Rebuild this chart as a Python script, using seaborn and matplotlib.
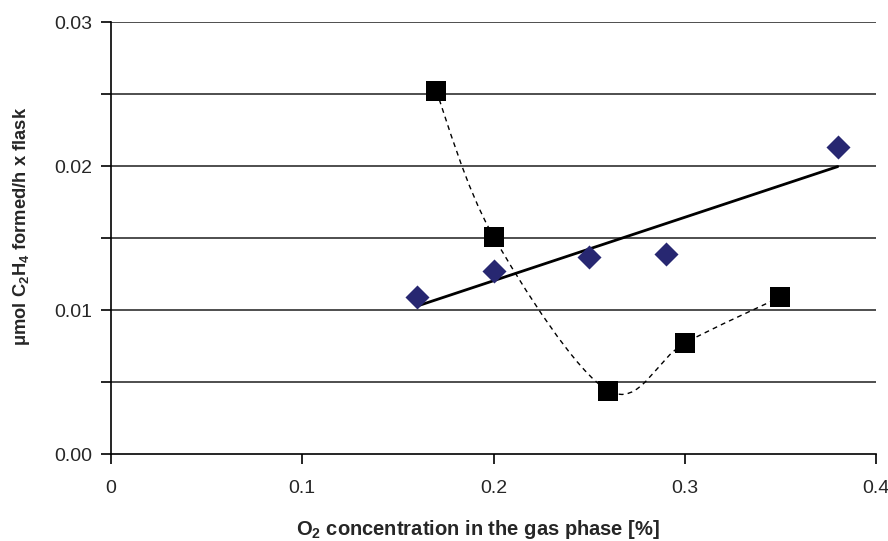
import numpy as np
import pandas as pd
import matplotlib
matplotlib.use("Agg")
import matplotlib.pyplot as plt
from matplotlib.path import Path
from matplotlib.patches import PathPatch
import seaborn as sns

# O2 series with linear trend (diamonds)
o2_a = [0.16, 0.20, 0.25, 0.29, 0.38]
c2h4_a = [0.0109, 0.0127, 0.0137, 0.0139, 0.0213]

# O2 series with smoothed connecting line (squares)
o2_b = [0.17, 0.20, 0.26, 0.30, 0.35]
c2h4_b = [0.0252, 0.0151, 0.0044, 0.0077, 0.0109]

x_ticks = [0, 0.1, 0.2, 0.3, 0.4]
x_tick_labels = ["0", "0.1", "0.2", "0.3", "0.4"]
y_ticks = [0.00, 0.005, 0.01, 0.015, 0.02, 0.025, 0.03]
y_tick_labels = ["0.00", "", "0.01", "", "0.02", "", "0.03"]

sns.set_theme(style="white")
plt.rcParams["font.family"] = ["Liberation Sans", "DejaVu Sans"]
plt.rcParams["mathtext.default"] = "regular"

fig = plt.figure(figsize=(8.88, 5.41), dpi=100)
ax = fig.add_axes([0.125, 0.1608, 0.8615, 0.7985])

ax.set_xlim(0, 0.4)
ax.set_ylim(0, 0.03)

# horizontal grid lines
for yv in y_ticks[1:]:
    ax.axhline(yv, color="#303030", lw=1.2, zorder=1)

df_a = pd.DataFrame({"o2": o2_a, "c2h4": c2h4_a})
df_b = pd.DataFrame({"o2": o2_b, "c2h4": c2h4_b})

# linear trend of the diamond series
sns.regplot(data=df_a, x="o2", y="c2h4", ci=None, truncate=True, scatter=False,
            line_kws=dict(color="black", lw=2.0, zorder=3), ax=ax)

# smoothed dashed curve through the squares (cubic Bezier, Catmull-Rom style)
fig.canvas.draw()
pts = ax.transData.transform(np.column_stack([o2_b, c2h4_b]))
verts = [pts[0]]
codes = [Path.MOVETO]
n = len(pts)
for i in range(n - 1):
    p0 = pts[i - 1] if i > 0 else pts[i]
    p1 = pts[i]
    p2 = pts[i + 1]
    p3 = pts[i + 2] if i + 2 < n else pts[i + 1]
    c1 = p1 + (p2 - p0) / 6.0
    c2 = p2 - (p3 - p1) / 6.0
    verts += [c1, c2, p2]
    codes += [Path.CURVE4] * 3
data_verts = ax.transData.inverted().transform(np.array(verts))
curve = PathPatch(Path(data_verts, codes), fill=False, edgecolor="black",
                  lw=1.0, linestyle=(0, (3.5, 3)), zorder=3)
ax.add_patch(curve)

sns.scatterplot(data=df_a, x="o2", y="c2h4", marker="D", s=150,
                color="#272771", edgecolor="#272771", linewidth=0, zorder=4, ax=ax)
sns.scatterplot(data=df_b, x="o2", y="c2h4", marker="s", s=210,
                color="black", edgecolor="black", linewidth=0, zorder=5, ax=ax)

ax.set_xticks(x_ticks)
ax.set_xticklabels(x_tick_labels, fontsize=14)
ax.set_yticks(y_ticks)
ax.set_yticklabels(y_tick_labels, fontsize=14)
ax.tick_params(axis="both", direction="out", length=7.5, width=1.2, color="black",
               bottom=True, left=True)
ax.tick_params(axis="x", pad=11)
ax.tick_params(axis="y", pad=6)

for side in ["top", "right"]:
    ax.spines[side].set_visible(False)
for side in ["left", "bottom"]:
    ax.spines[side].set_color("black")
    ax.spines[side].set_linewidth(1.2)
    ax.spines[side].set_zorder(6)

ax.set_xlabel("O$_2$ concentration in the gas phase [%]", fontsize=14.5,
              fontweight="bold")
ax.xaxis.set_label_coords(0.48, -0.148)
ax.set_ylabel("μmol C$_2$H$_4$ formed/h x flask", fontsize=13.2,
              fontweight="bold")
ax.yaxis.set_label_coords(-0.103, 0.528)

fig.savefig("out.png", dpi=100, facecolor="white")
